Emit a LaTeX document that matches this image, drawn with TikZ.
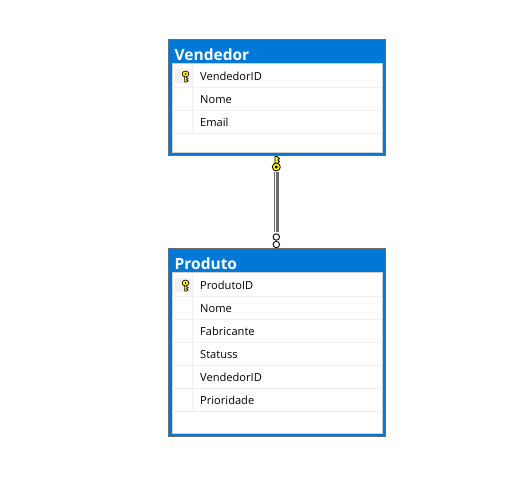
\documentclass[tikz,border=0pt]{standalone}
\usepackage{fontspec}
\setmainfont{Open Sans}
\usetikzlibrary{positioning, calc}
\definecolor{titleblue}{RGB}{0, 120, 215}
\definecolor{frameedge}{RGB}{105, 110, 115}
\definecolor{rowline}{RGB}{240, 240, 240}
\definecolor{keygold}{RGB}{255, 240, 0}
\tikzset{
    tablebox/.style={draw=frameedge, line width=1.5pt, fill=titleblue, inner sep=0pt},
    bodybox/.style={draw=rowline!70!gray, line width=1pt, fill=white, inner sep=0pt},
    tabletitle/.style={text=white, font=\fontsize{15.5}{16}\selectfont\bfseries, anchor=west, inner sep=0pt},
    rowtext/.style={text=black, font=\fontsize{11.1}{12}\selectfont, anchor=west, inner sep=0pt},
    rowrule/.style={draw=rowline, line width=1pt},
    keycell/.style={fill=rowline, draw=none, minimum width=15.5pt, minimum height=14pt, inner sep=0pt},
    relline/.style={draw=frameedge, line width=4.5pt},
    relcap/.style={draw=black, line width=0.9pt, fill=white, circle, minimum size=6.5pt, inner sep=0pt},
    keyglyph/.pic={
        \fill[keygold, draw=black, line width=0.6pt] (-0.9,2) -- (-0.9,8) -- (0.9,8) -- (2.6,6.8) -- (0.9,5.8) -- (2.6,4.6) -- (0.9,3.6) -- (0.9,2) -- cycle;
        \fill[keygold, draw=black, line width=0.6pt] (0,0) ellipse (3.4 and 3);
        \fill[black] (0,0) circle (0.9);
    }
}
\begin{document}
\begin{tikzpicture}[x=1pt, y=-1pt]
    \useasboundingbox[fill=white] (0,0) rectangle (508,480);

    % Vendedor table
    \node[tablebox, minimum width=217pt, minimum height=116pt] (vendedor) at (277,97.5) {};
    \node[bodybox, minimum width=210pt, minimum height=89pt] (vendedorbody) at (277,107.8) {};
    \node[tabletitle] (vendedortitle) at (174.5,54.8) {Vendedor};
    \foreach \y in {87.3, 110.3, 133.3} {
        \draw[rowrule] (172,\y) -- (382,\y);
    }
    \draw[rowrule] (192.3,64) -- (192.3,133.3);
    \node[keycell] (vendedorcell) at (182.8,76) {};
    \pic at (185.5,74) {keyglyph};
    \node[rowtext] (vendedorid) at (200,76.2) {VendedorID};
    \node[rowtext] (vendedornome) at (200,99.2) {Nome};
    \node[rowtext] (vendedoremail) at (200,122.2) {Email};

    % Produto table
    \node[tablebox, minimum width=217pt, minimum height=188pt] (produto) at (277,342.5) {};
    \node[bodybox, minimum width=210pt, minimum height=160.5pt] (produtobody) at (277,353) {};
    \node[tabletitle] (produtotitle) at (174.5,263.8) {Produto};
    \foreach \y in {296, 319, 342, 365, 388, 411.5} {
        \draw[rowrule] (172,\y) -- (382,\y);
    }
    \draw[rowrule] (192.3,273) -- (192.3,411.5);
    \node[keycell] (produtocell) at (182.8,285) {};
    \pic at (185.5,283) {keyglyph};
    \node[rowtext] (produtoid) at (200,285.2) {ProdutoID};
    \node[rowtext] (produtonome) at (200,308.2) {Nome};
    \node[rowtext] (fabricante) at (200,331.2) {Fabricante};
    \node[rowtext] (statuss) at (200,354.2) {Statuss};
    \node[rowtext] (vendedorfk) at (200,377.2) {VendedorID};
    \node[rowtext] (prioridade) at (200,400.2) {Prioridade};

    % Relationship
    \draw[relline, shorten <=16pt, shorten >=16pt] (vendedor.south -| 276.3,0) -- (produto.north -| 276.3,0);
    \draw[white, line width=1pt, shorten <=16pt, shorten >=16pt] (vendedor.south -| 275,0) -- (produto.north -| 275,0);
    \fill[keygold, draw=black, line width=0.8pt] (275,156.5) -- (277,156.5) -- (279.5,158.5) -- (278,160) -- (279.5,161.5) -- (278,163) -- (278,170) -- (275,170) -- cycle;
    \fill[keygold, draw=black, line width=0.8pt] (276.3,167) circle (4);
    \fill[black] (276.3,167) circle (1.6);
    \node[relcap] (manyupper) at (276.3,237) {};
    \node[relcap] (manylower) at (276.3,244.5) {};
\end{tikzpicture}
\end{document}
